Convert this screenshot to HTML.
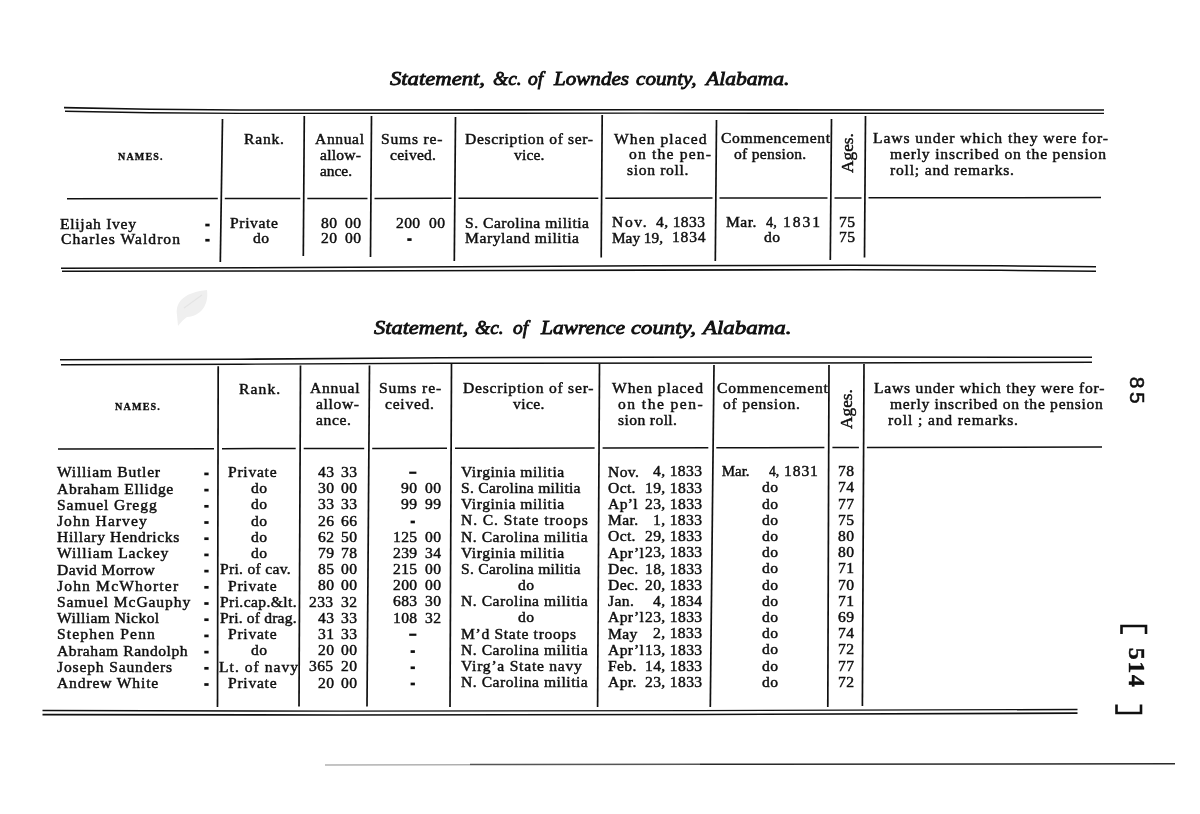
<!DOCTYPE html><html><head><meta charset="utf-8"><title>Statement of Lowndes and Lawrence counties, Alabama</title><style>
html,body{margin:0;padding:0;background:#fff;}
#pg{position:absolute;left:0;top:0;width:1200px;height:814px;filter:grayscale(1);}
body{width:1200px;height:814px;position:relative;overflow:hidden;font-family:"Liberation Serif",serif;color:#101010;}
.t{position:absolute;white-space:pre;transform-origin:0 0;}
svg{position:absolute;left:0;top:0;}
</style></head><body><div id="pg">
<svg width="1200" height="814" viewBox="0 0 1200 814">
<path d="M177 315 C175 300 187 292 207 290 C209 305 201 316 187 317 C184 319 181 322 178 326 Z" fill="#efefef"/><path d="M184 308 L202 295" stroke="#e4e4e4" stroke-width="1.2"/>
<polyline points="64.00,107.60 150.00,109.20 240.00,110.00 640.00,109.80 1104.00,110.00" fill="none" stroke="#101010" stroke-width="1.6"/>
<polyline points="65.00,111.20 150.00,112.80 240.00,113.40 640.00,113.10 1104.00,113.40" fill="none" stroke="#101010" stroke-width="1.4"/>
<polyline points="67.00,198.80 217.80,198.62" fill="none" stroke="#101010" stroke-width="1.5"/>
<polyline points="224.80,198.62 300.30,198.53" fill="none" stroke="#101010" stroke-width="1.5"/>
<polyline points="307.30,198.52 367.50,198.45" fill="none" stroke="#101010" stroke-width="1.5"/>
<polyline points="374.50,198.44 451.50,198.35" fill="none" stroke="#101010" stroke-width="1.5"/>
<polyline points="458.50,198.35 598.30,198.18" fill="none" stroke="#101010" stroke-width="1.5"/>
<polyline points="605.30,198.18 712.50,198.05" fill="none" stroke="#101010" stroke-width="1.5"/>
<polyline points="719.50,198.04 827.50,197.92" fill="none" stroke="#101010" stroke-width="1.5"/>
<polyline points="834.50,197.91 861.50,197.88" fill="none" stroke="#101010" stroke-width="1.5"/>
<polyline points="868.50,197.87 1101.00,197.60" fill="none" stroke="#101010" stroke-width="1.5"/>
<polyline points="61.00,268.20 300.00,267.50 650.00,265.80 850.00,265.30 1000.00,265.80 1096.00,266.70" fill="none" stroke="#101010" stroke-width="1.5"/>
<polyline points="62.00,271.20 300.00,271.00 650.00,270.10 850.00,269.70 1000.00,270.30 1096.00,271.20" fill="none" stroke="#101010" stroke-width="1.6"/>
<polyline points="222.50,119.00 220.30,262.00" fill="none" stroke="#101010" stroke-width="1.7"/>
<polyline points="304.30,116.00 303.30,256.00" fill="none" stroke="#101010" stroke-width="1.7"/>
<polyline points="371.50,116.00 370.50,257.00" fill="none" stroke="#101010" stroke-width="1.7"/>
<polyline points="455.50,117.00 454.30,261.00" fill="none" stroke="#101010" stroke-width="1.7"/>
<polyline points="602.20,115.00 601.20,257.50" fill="none" stroke="#101010" stroke-width="1.7"/>
<polyline points="716.50,120.00 715.30,261.00" fill="none" stroke="#101010" stroke-width="1.7"/>
<polyline points="831.50,119.00 830.30,260.00" fill="none" stroke="#101010" stroke-width="1.7"/>
<polyline points="865.50,116.00 864.50,257.50" fill="none" stroke="#101010" stroke-width="1.7"/>
<polyline points="60.00,359.70 240.00,359.20 440.00,357.70 800.00,357.00 1092.00,357.30" fill="none" stroke="#101010" stroke-width="1.6"/>
<polyline points="61.00,364.70 240.00,364.20 440.00,363.30 800.00,363.00 1092.00,362.30" fill="none" stroke="#101010" stroke-width="1.4"/>
<polyline points="58.00,449.00 214.00,448.70" fill="none" stroke="#101010" stroke-width="1.5"/>
<polyline points="222.00,448.69 295.70,448.54" fill="none" stroke="#101010" stroke-width="1.5"/>
<polyline points="303.70,448.53 364.20,448.41" fill="none" stroke="#101010" stroke-width="1.5"/>
<polyline points="372.20,448.40 447.00,448.25" fill="none" stroke="#101010" stroke-width="1.5"/>
<polyline points="455.00,448.24 594.60,447.97" fill="none" stroke="#101010" stroke-width="1.5"/>
<polyline points="602.60,447.96 708.30,447.75" fill="none" stroke="#101010" stroke-width="1.5"/>
<polyline points="716.30,447.74 824.40,447.53" fill="none" stroke="#101010" stroke-width="1.5"/>
<polyline points="832.40,447.52 858.90,447.47" fill="none" stroke="#101010" stroke-width="1.5"/>
<polyline points="866.90,447.45 1102.00,447.00" fill="none" stroke="#101010" stroke-width="1.5"/>
<polyline points="42.50,710.50 340.00,711.10 700.00,710.60 1077.50,709.50" fill="none" stroke="#101010" stroke-width="1.4"/>
<polyline points="42.50,714.60 340.00,715.00 700.00,714.50 1077.50,713.10" fill="none" stroke="#101010" stroke-width="1.7"/>
<polyline points="218.20,366.30 217.50,707.00" fill="none" stroke="#101010" stroke-width="1.7"/>
<polyline points="300.50,365.50 299.00,706.50" fill="none" stroke="#101010" stroke-width="1.7"/>
<polyline points="369.50,365.50 367.00,706.50" fill="none" stroke="#101010" stroke-width="1.7"/>
<polyline points="451.50,363.80 450.00,707.00" fill="none" stroke="#101010" stroke-width="1.7"/>
<polyline points="599.50,364.00 597.60,707.00" fill="none" stroke="#101010" stroke-width="1.7"/>
<polyline points="714.00,365.00 710.30,707.00" fill="none" stroke="#101010" stroke-width="1.7"/>
<polyline points="829.00,365.00 827.80,707.00" fill="none" stroke="#101010" stroke-width="1.7"/>
<polyline points="864.00,364.00 862.40,706.00" fill="none" stroke="#101010" stroke-width="1.7"/>
<polyline points="325.00,765.00 470.00,764.80" fill="none" stroke="#8a8a8a" stroke-width="1.0"/>
<polyline points="470.00,764.50 700.00,764.30" fill="none" stroke="#555" stroke-width="1.4"/>
<polyline points="700.00,764.30 1175.00,763.80" fill="none" stroke="#2a2a2a" stroke-width="1.5"/>
<path d="M1121.5 634 L1121.5 626 L1146 626 L1146 634" fill="none" stroke="#101010" stroke-width="2.6"/>
<path d="M1116.5 704.5 L1116.5 713 L1141 713 L1141 704.5" fill="none" stroke="#101010" stroke-width="2.6"/>
<rect x="205.3" y="223.68" width="4.3" height="2.7" fill="#101010"/>
<rect x="205.3" y="238.88" width="4.3" height="2.7" fill="#101010"/>
<rect x="407.3" y="238.23" width="4.3" height="2.7" fill="#101010"/>
<rect x="204.3" y="472.56" width="4.3" height="2.7" fill="#101010"/>
<rect x="409.2" y="471.63" width="7.2" height="2.2" fill="#101010"/>
<rect x="204.3" y="488.76" width="4.3" height="2.7" fill="#101010"/>
<rect x="204.3" y="504.96" width="4.3" height="2.7" fill="#101010"/>
<rect x="204.3" y="521.16" width="4.3" height="2.7" fill="#101010"/>
<rect x="410.6" y="520.63" width="4.3" height="2.7" fill="#101010"/>
<rect x="204.3" y="537.36" width="4.3" height="2.7" fill="#101010"/>
<rect x="204.3" y="553.56" width="4.3" height="2.7" fill="#101010"/>
<rect x="204.3" y="569.76" width="4.3" height="2.7" fill="#101010"/>
<rect x="204.3" y="585.96" width="4.3" height="2.7" fill="#101010"/>
<rect x="204.3" y="602.16" width="4.3" height="2.7" fill="#101010"/>
<rect x="204.3" y="618.36" width="4.3" height="2.7" fill="#101010"/>
<rect x="204.3" y="634.56" width="4.3" height="2.7" fill="#101010"/>
<rect x="409.2" y="633.63" width="7.2" height="2.2" fill="#101010"/>
<rect x="204.3" y="650.76" width="4.3" height="2.7" fill="#101010"/>
<rect x="410.6" y="650.23" width="4.3" height="2.7" fill="#101010"/>
<rect x="204.3" y="666.96" width="4.3" height="2.7" fill="#101010"/>
<rect x="410.6" y="666.43" width="4.3" height="2.7" fill="#101010"/>
<rect x="204.3" y="683.16" width="4.3" height="2.7" fill="#101010"/>
<rect x="410.6" y="682.63" width="4.3" height="2.7" fill="#101010"/>
</svg>
<div class="t" style="left:390.00px;top:69.00px;line-height:19.5px;font-family:'Liberation Serif',serif;font-size:19.5px;font-weight:400;font-style:italic;-webkit-text-stroke:0.85px #101010;transform:scaleX(1.1616);">Statement,</div>
<div class="t" style="left:493.00px;top:69.00px;line-height:19.5px;font-family:'Liberation Serif',serif;font-size:19.5px;font-weight:400;font-style:italic;-webkit-text-stroke:0.85px #101010;">&amp;c.</div>
<div class="t" style="left:528.00px;top:69.00px;line-height:19.5px;font-family:'Liberation Serif',serif;font-size:19.5px;font-weight:400;font-style:italic;-webkit-text-stroke:0.85px #101010;">of</div>
<div class="t" style="left:554.00px;top:69.00px;line-height:19.5px;font-family:'Liberation Serif',serif;font-size:19.5px;font-weight:400;font-style:italic;-webkit-text-stroke:0.85px #101010;transform:scaleX(1.0813);">Lowndes</div>
<div class="t" style="left:636.40px;top:69.00px;line-height:19.5px;font-family:'Liberation Serif',serif;font-size:19.5px;font-weight:400;font-style:italic;-webkit-text-stroke:0.85px #101010;transform:scaleX(1.0864);">county,</div>
<div class="t" style="left:705.80px;top:69.00px;line-height:19.5px;font-family:'Liberation Serif',serif;font-size:19.5px;font-weight:400;font-style:italic;-webkit-text-stroke:0.85px #101010;transform:scaleX(1.1076);">Alabama.</div>
<div class="t" style="left:117.70px;top:152.00px;line-height:10.5px;font-family:'Liberation Serif',serif;font-size:10.5px;font-weight:700;font-style:normal;letter-spacing:1.2px;-webkit-text-stroke:0.35px #101010;transform:scaleX(0.9550);">NAMES.</div>
<div class="t" style="left:243.75px;top:132.39px;line-height:15.0px;font-family:'Liberation Serif',serif;font-size:15.0px;font-weight:400;font-style:normal;-webkit-text-stroke:0.45px #101010;letter-spacing:0.760px;transform:scaleX(1.0400);">Rank.</div>
<div class="t" style="left:315.00px;top:132.24px;line-height:15.0px;font-family:'Liberation Serif',serif;font-size:15.0px;font-weight:400;font-style:normal;-webkit-text-stroke:0.45px #101010;letter-spacing:0.589px;transform:scaleX(1.0400);">Annual</div>
<div class="t" style="left:320.00px;top:148.02px;line-height:15.0px;font-family:'Liberation Serif',serif;font-size:15.0px;font-weight:400;font-style:normal;-webkit-text-stroke:0.45px #101010;letter-spacing:0.219px;transform:scaleX(1.0400);">allow-</div>
<div class="t" style="left:320.00px;top:163.82px;line-height:15.0px;font-family:'Liberation Serif',serif;font-size:15.0px;font-weight:400;font-style:normal;-webkit-text-stroke:0.45px #101010;transform:scaleX(1.0245);">ance.</div>
<div class="t" style="left:381.00px;top:132.09px;line-height:15.0px;font-family:'Liberation Serif',serif;font-size:15.0px;font-weight:400;font-style:normal;-webkit-text-stroke:0.45px #101010;letter-spacing:0.769px;transform:scaleX(1.0400);">Sums re-</div>
<div class="t" style="left:390.00px;top:147.87px;line-height:15.0px;font-family:'Liberation Serif',serif;font-size:15.0px;font-weight:400;font-style:normal;-webkit-text-stroke:0.45px #101010;letter-spacing:0.223px;transform:scaleX(1.0400);">ceived.</div>
<div class="t" style="left:465.00px;top:131.91px;line-height:15.0px;font-family:'Liberation Serif',serif;font-size:15.0px;font-weight:400;font-style:normal;-webkit-text-stroke:0.45px #101010;letter-spacing:0.606px;transform:scaleX(1.0400);">Description of ser-</div>
<div class="t" style="left:514.00px;top:147.60px;line-height:15.0px;font-family:'Liberation Serif',serif;font-size:15.0px;font-weight:400;font-style:normal;-webkit-text-stroke:0.45px #101010;letter-spacing:0.148px;transform:scaleX(1.0400);">vice.</div>
<div class="t" style="left:614.00px;top:131.58px;line-height:15.0px;font-family:'Liberation Serif',serif;font-size:15.0px;font-weight:400;font-style:normal;-webkit-text-stroke:0.45px #101010;letter-spacing:1.022px;transform:scaleX(1.0400);">When placed</div>
<div class="t" style="left:629.00px;top:147.34px;line-height:15.0px;font-family:'Liberation Serif',serif;font-size:15.0px;font-weight:400;font-style:normal;-webkit-text-stroke:0.45px #101010;letter-spacing:1.136px;transform:scaleX(1.0400);">on the pen-</div>
<div class="t" style="left:627.00px;top:163.15px;line-height:15.0px;font-family:'Liberation Serif',serif;font-size:15.0px;font-weight:400;font-style:normal;-webkit-text-stroke:0.45px #101010;letter-spacing:0.643px;transform:scaleX(1.0400);">sion roll.</div>
<div class="t" style="left:721.00px;top:131.34px;line-height:15.0px;font-family:'Liberation Serif',serif;font-size:15.0px;font-weight:400;font-style:normal;-webkit-text-stroke:0.45px #101010;letter-spacing:0.590px;transform:scaleX(1.0400);">Commencement</div>
<div class="t" style="left:733.75px;top:147.11px;line-height:15.0px;font-family:'Liberation Serif',serif;font-size:15.0px;font-weight:400;font-style:normal;-webkit-text-stroke:0.45px #101010;letter-spacing:0.280px;transform:scaleX(1.0400);">of pension.</div>
<div class="t" style="left:872.50px;top:131.01px;line-height:15.0px;font-family:'Liberation Serif',serif;font-size:15.0px;font-weight:400;font-style:normal;-webkit-text-stroke:0.45px #101010;letter-spacing:0.891px;transform:scaleX(1.0400);">Laws under which they were for-</div>
<div class="t" style="left:890.00px;top:146.77px;line-height:15.0px;font-family:'Liberation Serif',serif;font-size:15.0px;font-weight:400;font-style:normal;-webkit-text-stroke:0.45px #101010;letter-spacing:0.784px;transform:scaleX(1.0400);">merly inscribed on the pension</div>
<div class="t" style="left:890.00px;top:162.57px;line-height:15.0px;font-family:'Liberation Serif',serif;font-size:15.0px;font-weight:400;font-style:normal;-webkit-text-stroke:0.45px #101010;letter-spacing:0.765px;transform:scaleX(1.0400);">roll; and remarks.</div>
<div class="t" style="left:60.00px;top:216.60px;line-height:15.0px;font-family:'Liberation Serif',serif;font-size:15.0px;font-weight:400;font-style:normal;-webkit-text-stroke:0.45px #101010;letter-spacing:0.684px;transform:scaleX(1.0400);">Elijah Ivey</div>
<div class="t" style="left:61.00px;top:231.80px;line-height:15.0px;font-family:'Liberation Serif',serif;font-size:15.0px;font-weight:400;font-style:normal;-webkit-text-stroke:0.45px #101010;letter-spacing:0.989px;transform:scaleX(1.0400);">Charles Waldron</div>
<div class="t" style="left:230.00px;top:216.23px;line-height:15.0px;font-family:'Liberation Serif',serif;font-size:15.0px;font-weight:400;font-style:normal;-webkit-text-stroke:0.45px #101010;letter-spacing:0.609px;transform:scaleX(1.0400);">Private</div>
<div class="t" style="left:253.02px;top:231.36px;line-height:15.0px;font-family:'Liberation Serif',serif;font-size:15.0px;font-weight:400;font-style:normal;-webkit-text-stroke:0.45px #101010;letter-spacing:0.350px;transform:scaleX(1.0400);">do</div>
<div class="t" style="left:345.04px;top:215.94px;line-height:15.0px;font-family:'Liberation Serif',serif;font-size:15.0px;font-weight:400;font-style:normal;-webkit-text-stroke:0.45px #101010;letter-spacing:0.350px;transform:scaleX(1.0400);">00</div>
<div class="t" style="left:321.04px;top:215.99px;line-height:15.0px;font-family:'Liberation Serif',serif;font-size:15.0px;font-weight:400;font-style:normal;-webkit-text-stroke:0.45px #101010;letter-spacing:0.350px;transform:scaleX(1.0400);">80</div>
<div class="t" style="left:345.04px;top:231.14px;line-height:15.0px;font-family:'Liberation Serif',serif;font-size:15.0px;font-weight:400;font-style:normal;-webkit-text-stroke:0.45px #101010;letter-spacing:0.350px;transform:scaleX(1.0400);">00</div>
<div class="t" style="left:321.04px;top:231.19px;line-height:15.0px;font-family:'Liberation Serif',serif;font-size:15.0px;font-weight:400;font-style:normal;-webkit-text-stroke:0.45px #101010;letter-spacing:0.350px;transform:scaleX(1.0400);">20</div>
<div class="t" style="left:428.54px;top:215.75px;line-height:15.0px;font-family:'Liberation Serif',serif;font-size:15.0px;font-weight:400;font-style:normal;-webkit-text-stroke:0.45px #101010;letter-spacing:0.350px;transform:scaleX(1.0400);">00</div>
<div class="t" style="left:396.37px;top:215.81px;line-height:15.0px;font-family:'Liberation Serif',serif;font-size:15.0px;font-weight:400;font-style:normal;-webkit-text-stroke:0.45px #101010;letter-spacing:0.350px;transform:scaleX(1.0400);">200</div>
<div class="t" style="left:465.00px;top:215.71px;line-height:15.0px;font-family:'Liberation Serif',serif;font-size:15.0px;font-weight:400;font-style:normal;-webkit-text-stroke:0.45px #101010;letter-spacing:0.490px;transform:scaleX(1.0400);">S. Carolina militia</div>
<div class="t" style="left:465.00px;top:230.91px;line-height:15.0px;font-family:'Liberation Serif',serif;font-size:15.0px;font-weight:400;font-style:normal;-webkit-text-stroke:0.45px #101010;letter-spacing:0.559px;transform:scaleX(1.0400);">Maryland militia</div>
<div class="t" style="left:612.00px;top:215.39px;line-height:15.0px;font-family:'Liberation Serif',serif;font-size:15.0px;font-weight:400;font-style:normal;-webkit-text-stroke:0.45px #101010;letter-spacing:1.553px;transform:scaleX(1.0400);">Nov.</div>
<div class="t" style="left:656.02px;top:215.18px;line-height:15.0px;font-family:'Liberation Serif',serif;font-size:15.0px;font-weight:400;font-style:normal;-webkit-text-stroke:0.45px #101010;letter-spacing:0.350px;transform:scaleX(1.0400);">4, 1833</div>
<div class="t" style="left:612.00px;top:230.59px;line-height:15.0px;font-family:'Liberation Serif',serif;font-size:15.0px;font-weight:400;font-style:normal;-webkit-text-stroke:0.45px #101010;transform:scaleX(1.0200);">May 19,</div>
<div class="t" style="left:671.50px;top:230.45px;line-height:15.0px;font-family:'Liberation Serif',serif;font-size:15.0px;font-weight:400;font-style:normal;-webkit-text-stroke:0.45px #101010;letter-spacing:0.737px;transform:scaleX(1.0400);">1834</div>
<div class="t" style="left:725.70px;top:215.14px;line-height:15.0px;font-family:'Liberation Serif',serif;font-size:15.0px;font-weight:400;font-style:normal;-webkit-text-stroke:0.45px #101010;letter-spacing:0.404px;transform:scaleX(1.0400);">Mar.</div>
<div class="t" style="left:765.80px;top:215.05px;line-height:15.0px;font-family:'Liberation Serif',serif;font-size:15.0px;font-weight:400;font-style:normal;-webkit-text-stroke:0.45px #101010;transform:scaleX(0.9600);">4,</div>
<div class="t" style="left:783.00px;top:215.01px;line-height:15.0px;font-family:'Liberation Serif',serif;font-size:15.0px;font-weight:400;font-style:normal;-webkit-text-stroke:0.45px #101010;letter-spacing:1.859px;transform:scaleX(1.0400);">1831</div>
<div class="t" style="left:764.22px;top:230.23px;line-height:15.0px;font-family:'Liberation Serif',serif;font-size:15.0px;font-weight:400;font-style:normal;-webkit-text-stroke:0.45px #101010;letter-spacing:0.350px;transform:scaleX(1.0400);">do</div>
<div class="t" style="left:838.52px;top:214.87px;line-height:15.0px;font-family:'Liberation Serif',serif;font-size:15.0px;font-weight:400;font-style:normal;-webkit-text-stroke:0.45px #101010;letter-spacing:0.350px;transform:scaleX(1.0400);">75</div>
<div class="t" style="left:838.52px;top:230.07px;line-height:15.0px;font-family:'Liberation Serif',serif;font-size:15.0px;font-weight:400;font-style:normal;-webkit-text-stroke:0.45px #101010;letter-spacing:0.350px;transform:scaleX(1.0400);">75</div>
<div class="t" style="left:374.00px;top:318.00px;line-height:19.5px;font-family:'Liberation Serif',serif;font-size:19.5px;font-weight:400;font-style:italic;-webkit-text-stroke:0.85px #101010;transform:scaleX(1.1494);">Statement,</div>
<div class="t" style="left:475.00px;top:318.00px;line-height:19.5px;font-family:'Liberation Serif',serif;font-size:19.5px;font-weight:400;font-style:italic;-webkit-text-stroke:0.85px #101010;">&amp;c.</div>
<div class="t" style="left:513.00px;top:318.00px;line-height:19.5px;font-family:'Liberation Serif',serif;font-size:19.5px;font-weight:400;font-style:italic;-webkit-text-stroke:0.85px #101010;">of</div>
<div class="t" style="left:541.00px;top:318.00px;line-height:19.5px;font-family:'Liberation Serif',serif;font-size:19.5px;font-weight:400;font-style:italic;-webkit-text-stroke:0.85px #101010;transform:scaleX(1.1025);">Lawrence</div>
<div class="t" style="left:631.00px;top:318.00px;line-height:19.5px;font-family:'Liberation Serif',serif;font-size:19.5px;font-weight:400;font-style:italic;-webkit-text-stroke:0.85px #101010;transform:scaleX(1.1653);">county,</div>
<div class="t" style="left:702.50px;top:318.00px;line-height:19.5px;font-family:'Liberation Serif',serif;font-size:19.5px;font-weight:400;font-style:italic;-webkit-text-stroke:0.85px #101010;transform:scaleX(1.1753);">Alabama.</div>
<div class="t" style="left:115.00px;top:402.00px;line-height:10.5px;font-family:'Liberation Serif',serif;font-size:10.5px;font-weight:700;font-style:normal;letter-spacing:1.2px;-webkit-text-stroke:0.35px #101010;transform:scaleX(0.9634);">NAMES.</div>
<div class="t" style="left:238.75px;top:381.60px;line-height:15.0px;font-family:'Liberation Serif',serif;font-size:15.0px;font-weight:400;font-style:normal;-webkit-text-stroke:0.45px #101010;letter-spacing:1.060px;transform:scaleX(1.0400);">Rank.</div>
<div class="t" style="left:310.00px;top:381.48px;line-height:15.0px;font-family:'Liberation Serif',serif;font-size:15.0px;font-weight:400;font-style:normal;-webkit-text-stroke:0.45px #101010;letter-spacing:0.685px;transform:scaleX(1.0400);">Annual</div>
<div class="t" style="left:316.00px;top:397.47px;line-height:15.0px;font-family:'Liberation Serif',serif;font-size:15.0px;font-weight:400;font-style:normal;-webkit-text-stroke:0.45px #101010;letter-spacing:0.604px;transform:scaleX(1.0400);">allow-</div>
<div class="t" style="left:316.00px;top:413.47px;line-height:15.0px;font-family:'Liberation Serif',serif;font-size:15.0px;font-weight:400;font-style:normal;-webkit-text-stroke:0.45px #101010;letter-spacing:0.605px;transform:scaleX(1.0400);">ance.</div>
<div class="t" style="left:378.75px;top:381.36px;line-height:15.0px;font-family:'Liberation Serif',serif;font-size:15.0px;font-weight:400;font-style:normal;-webkit-text-stroke:0.45px #101010;letter-spacing:0.872px;transform:scaleX(1.0400);">Sums re-</div>
<div class="t" style="left:385.00px;top:397.35px;line-height:15.0px;font-family:'Liberation Serif',serif;font-size:15.0px;font-weight:400;font-style:normal;-webkit-text-stroke:0.45px #101010;letter-spacing:0.704px;transform:scaleX(1.0400);">ceived.</div>
<div class="t" style="left:462.50px;top:381.22px;line-height:15.0px;font-family:'Liberation Serif',serif;font-size:15.0px;font-weight:400;font-style:normal;-webkit-text-stroke:0.45px #101010;letter-spacing:0.739px;transform:scaleX(1.0400);">Description of ser-</div>
<div class="t" style="left:512.50px;top:397.14px;line-height:15.0px;font-family:'Liberation Serif',serif;font-size:15.0px;font-weight:400;font-style:normal;-webkit-text-stroke:0.45px #101010;letter-spacing:0.389px;transform:scaleX(1.0400);">vice.</div>
<div class="t" style="left:611.70px;top:380.97px;line-height:15.0px;font-family:'Liberation Serif',serif;font-size:15.0px;font-weight:400;font-style:normal;-webkit-text-stroke:0.45px #101010;letter-spacing:0.878px;transform:scaleX(1.0400);">When placed</div>
<div class="t" style="left:618.00px;top:396.96px;line-height:15.0px;font-family:'Liberation Serif',serif;font-size:15.0px;font-weight:400;font-style:normal;-webkit-text-stroke:0.45px #101010;letter-spacing:1.396px;transform:scaleX(1.0400);">on the pen-</div>
<div class="t" style="left:618.00px;top:412.96px;line-height:15.0px;font-family:'Liberation Serif',serif;font-size:15.0px;font-weight:400;font-style:normal;-webkit-text-stroke:0.45px #101010;letter-spacing:0.376px;transform:scaleX(1.0400);">sion roll.</div>
<div class="t" style="left:716.70px;top:380.79px;line-height:15.0px;font-family:'Liberation Serif',serif;font-size:15.0px;font-weight:400;font-style:normal;-webkit-text-stroke:0.45px #101010;letter-spacing:0.748px;transform:scaleX(1.0400);">Commencement</div>
<div class="t" style="left:722.50px;top:396.78px;line-height:15.0px;font-family:'Liberation Serif',serif;font-size:15.0px;font-weight:400;font-style:normal;-webkit-text-stroke:0.45px #101010;letter-spacing:0.737px;transform:scaleX(1.0400);">of pension.</div>
<div class="t" style="left:873.50px;top:380.52px;line-height:15.0px;font-family:'Liberation Serif',serif;font-size:15.0px;font-weight:400;font-style:normal;-webkit-text-stroke:0.45px #101010;letter-spacing:0.747px;transform:scaleX(1.0400);">Laws under which they were for-</div>
<div class="t" style="left:889.60px;top:396.50px;line-height:15.0px;font-family:'Liberation Serif',serif;font-size:15.0px;font-weight:400;font-style:normal;-webkit-text-stroke:0.45px #101010;letter-spacing:0.681px;transform:scaleX(1.0400);">merly inscribed on the pension</div>
<div class="t" style="left:888.00px;top:412.50px;line-height:15.0px;font-family:'Liberation Serif',serif;font-size:15.0px;font-weight:400;font-style:normal;-webkit-text-stroke:0.45px #101010;letter-spacing:0.835px;transform:scaleX(1.0400);">roll ; and remarks.</div>
<div class="t" style="left:57.00px;top:465.40px;line-height:15.0px;font-family:'Liberation Serif',serif;font-size:15.0px;font-weight:400;font-style:normal;-webkit-text-stroke:0.45px #101010;letter-spacing:0.711px;transform:scaleX(1.0400);">William Butler</div>
<div class="t" style="left:227.70px;top:465.13px;line-height:15.0px;font-family:'Liberation Serif',serif;font-size:15.0px;font-weight:400;font-style:normal;-webkit-text-stroke:0.45px #101010;letter-spacing:0.705px;transform:scaleX(1.0400);">Private</div>
<div class="t" style="left:341.34px;top:464.92px;line-height:15.0px;font-family:'Liberation Serif',serif;font-size:15.0px;font-weight:400;font-style:normal;-webkit-text-stroke:0.45px #101010;letter-spacing:0.350px;transform:scaleX(1.0400);">33</div>
<div class="t" style="left:317.64px;top:464.96px;line-height:15.0px;font-family:'Liberation Serif',serif;font-size:15.0px;font-weight:400;font-style:normal;-webkit-text-stroke:0.45px #101010;letter-spacing:0.350px;transform:scaleX(1.0400);">43</div>
<div class="t" style="left:461.40px;top:464.75px;line-height:15.0px;font-family:'Liberation Serif',serif;font-size:15.0px;font-weight:400;font-style:normal;-webkit-text-stroke:0.45px #101010;letter-spacing:0.500px;transform:scaleX(1.0400);">Virginia militia</div>
<div class="t" style="left:608.30px;top:464.52px;line-height:15.0px;font-family:'Liberation Serif',serif;font-size:15.0px;font-weight:400;font-style:normal;-webkit-text-stroke:0.45px #101010;letter-spacing:0.350px;transform:scaleX(1.0400);">Nov.</div>
<div class="t" style="left:652.72px;top:464.37px;line-height:15.0px;font-family:'Liberation Serif',serif;font-size:15.0px;font-weight:400;font-style:normal;-webkit-text-stroke:0.45px #101010;letter-spacing:0.350px;transform:scaleX(1.0400);">4, 1833</div>
<div class="t" style="left:721.70px;top:464.34px;line-height:15.0px;font-family:'Liberation Serif',serif;font-size:15.0px;font-weight:400;font-style:normal;-webkit-text-stroke:0.45px #101010;">Mar.</div>
<div class="t" style="left:768.90px;top:464.26px;line-height:15.0px;font-family:'Liberation Serif',serif;font-size:15.0px;font-weight:400;font-style:normal;-webkit-text-stroke:0.45px #101010;transform:scaleX(0.9156);">4,</div>
<div class="t" style="left:783.60px;top:464.24px;line-height:15.0px;font-family:'Liberation Serif',serif;font-size:15.0px;font-weight:400;font-style:normal;-webkit-text-stroke:0.45px #101010;letter-spacing:0.865px;transform:scaleX(1.0400);">1831</div>
<div class="t" style="left:838.22px;top:464.14px;line-height:15.0px;font-family:'Liberation Serif',serif;font-size:15.0px;font-weight:400;font-style:normal;-webkit-text-stroke:0.45px #101010;letter-spacing:0.350px;transform:scaleX(1.0400);">78</div>
<div class="t" style="left:57.00px;top:481.60px;line-height:15.0px;font-family:'Liberation Serif',serif;font-size:15.0px;font-weight:400;font-style:normal;-webkit-text-stroke:0.45px #101010;letter-spacing:0.638px;transform:scaleX(1.0400);">Abraham Ellidge</div>
<div class="t" style="left:251.42px;top:481.28px;line-height:15.0px;font-family:'Liberation Serif',serif;font-size:15.0px;font-weight:400;font-style:normal;-webkit-text-stroke:0.45px #101010;letter-spacing:0.350px;transform:scaleX(1.0400);">do</div>
<div class="t" style="left:341.34px;top:481.12px;line-height:15.0px;font-family:'Liberation Serif',serif;font-size:15.0px;font-weight:400;font-style:normal;-webkit-text-stroke:0.45px #101010;letter-spacing:0.350px;transform:scaleX(1.0400);">00</div>
<div class="t" style="left:317.64px;top:481.16px;line-height:15.0px;font-family:'Liberation Serif',serif;font-size:15.0px;font-weight:400;font-style:normal;-webkit-text-stroke:0.45px #101010;letter-spacing:0.350px;transform:scaleX(1.0400);">30</div>
<div class="t" style="left:424.84px;top:480.99px;line-height:15.0px;font-family:'Liberation Serif',serif;font-size:15.0px;font-weight:400;font-style:normal;-webkit-text-stroke:0.45px #101010;letter-spacing:0.350px;transform:scaleX(1.0400);">00</div>
<div class="t" style="left:401.24px;top:481.02px;line-height:15.0px;font-family:'Liberation Serif',serif;font-size:15.0px;font-weight:400;font-style:normal;-webkit-text-stroke:0.45px #101010;letter-spacing:0.350px;transform:scaleX(1.0400);">90</div>
<div class="t" style="left:461.40px;top:480.95px;line-height:15.0px;font-family:'Liberation Serif',serif;font-size:15.0px;font-weight:400;font-style:normal;-webkit-text-stroke:0.45px #101010;letter-spacing:0.250px;transform:scaleX(1.0400);">S. Carolina militia</div>
<div class="t" style="left:608.30px;top:480.72px;line-height:15.0px;font-family:'Liberation Serif',serif;font-size:15.0px;font-weight:400;font-style:normal;-webkit-text-stroke:0.45px #101010;letter-spacing:0.350px;transform:scaleX(1.0400);">Oct.</div>
<div class="t" style="left:644.55px;top:480.57px;line-height:15.0px;font-family:'Liberation Serif',serif;font-size:15.0px;font-weight:400;font-style:normal;-webkit-text-stroke:0.45px #101010;letter-spacing:0.350px;transform:scaleX(1.0400);">19, 1833</div>
<div class="t" style="left:761.62px;top:480.46px;line-height:15.0px;font-family:'Liberation Serif',serif;font-size:15.0px;font-weight:400;font-style:normal;-webkit-text-stroke:0.45px #101010;letter-spacing:0.350px;transform:scaleX(1.0400);">do</div>
<div class="t" style="left:838.22px;top:480.34px;line-height:15.0px;font-family:'Liberation Serif',serif;font-size:15.0px;font-weight:400;font-style:normal;-webkit-text-stroke:0.45px #101010;letter-spacing:0.350px;transform:scaleX(1.0400);">74</div>
<div class="t" style="left:57.00px;top:497.80px;line-height:15.0px;font-family:'Liberation Serif',serif;font-size:15.0px;font-weight:400;font-style:normal;-webkit-text-stroke:0.45px #101010;letter-spacing:0.876px;transform:scaleX(1.0400);">Samuel Gregg</div>
<div class="t" style="left:251.42px;top:497.48px;line-height:15.0px;font-family:'Liberation Serif',serif;font-size:15.0px;font-weight:400;font-style:normal;-webkit-text-stroke:0.45px #101010;letter-spacing:0.350px;transform:scaleX(1.0400);">do</div>
<div class="t" style="left:341.34px;top:497.32px;line-height:15.0px;font-family:'Liberation Serif',serif;font-size:15.0px;font-weight:400;font-style:normal;-webkit-text-stroke:0.45px #101010;letter-spacing:0.350px;transform:scaleX(1.0400);">33</div>
<div class="t" style="left:317.64px;top:497.36px;line-height:15.0px;font-family:'Liberation Serif',serif;font-size:15.0px;font-weight:400;font-style:normal;-webkit-text-stroke:0.45px #101010;letter-spacing:0.350px;transform:scaleX(1.0400);">33</div>
<div class="t" style="left:424.84px;top:497.19px;line-height:15.0px;font-family:'Liberation Serif',serif;font-size:15.0px;font-weight:400;font-style:normal;-webkit-text-stroke:0.45px #101010;letter-spacing:0.350px;transform:scaleX(1.0400);">99</div>
<div class="t" style="left:401.24px;top:497.22px;line-height:15.0px;font-family:'Liberation Serif',serif;font-size:15.0px;font-weight:400;font-style:normal;-webkit-text-stroke:0.45px #101010;letter-spacing:0.350px;transform:scaleX(1.0400);">99</div>
<div class="t" style="left:461.40px;top:497.15px;line-height:15.0px;font-family:'Liberation Serif',serif;font-size:15.0px;font-weight:400;font-style:normal;-webkit-text-stroke:0.45px #101010;letter-spacing:0.500px;transform:scaleX(1.0400);">Virginia militia</div>
<div class="t" style="left:608.30px;top:496.92px;line-height:15.0px;font-family:'Liberation Serif',serif;font-size:15.0px;font-weight:400;font-style:normal;-webkit-text-stroke:0.45px #101010;letter-spacing:0.350px;transform:scaleX(1.0400);">Ap’l</div>
<div class="t" style="left:644.55px;top:496.77px;line-height:15.0px;font-family:'Liberation Serif',serif;font-size:15.0px;font-weight:400;font-style:normal;-webkit-text-stroke:0.45px #101010;letter-spacing:0.350px;transform:scaleX(1.0400);">23, 1833</div>
<div class="t" style="left:761.62px;top:496.66px;line-height:15.0px;font-family:'Liberation Serif',serif;font-size:15.0px;font-weight:400;font-style:normal;-webkit-text-stroke:0.45px #101010;letter-spacing:0.350px;transform:scaleX(1.0400);">do</div>
<div class="t" style="left:838.22px;top:496.54px;line-height:15.0px;font-family:'Liberation Serif',serif;font-size:15.0px;font-weight:400;font-style:normal;-webkit-text-stroke:0.45px #101010;letter-spacing:0.350px;transform:scaleX(1.0400);">77</div>
<div class="t" style="left:57.00px;top:514.00px;line-height:15.0px;font-family:'Liberation Serif',serif;font-size:15.0px;font-weight:400;font-style:normal;-webkit-text-stroke:0.45px #101010;letter-spacing:1.002px;transform:scaleX(1.0400);">John Harvey</div>
<div class="t" style="left:251.42px;top:513.68px;line-height:15.0px;font-family:'Liberation Serif',serif;font-size:15.0px;font-weight:400;font-style:normal;-webkit-text-stroke:0.45px #101010;letter-spacing:0.350px;transform:scaleX(1.0400);">do</div>
<div class="t" style="left:341.34px;top:513.52px;line-height:15.0px;font-family:'Liberation Serif',serif;font-size:15.0px;font-weight:400;font-style:normal;-webkit-text-stroke:0.45px #101010;letter-spacing:0.350px;transform:scaleX(1.0400);">66</div>
<div class="t" style="left:317.64px;top:513.56px;line-height:15.0px;font-family:'Liberation Serif',serif;font-size:15.0px;font-weight:400;font-style:normal;-webkit-text-stroke:0.45px #101010;letter-spacing:0.350px;transform:scaleX(1.0400);">26</div>
<div class="t" style="left:461.40px;top:513.35px;line-height:15.0px;font-family:'Liberation Serif',serif;font-size:15.0px;font-weight:400;font-style:normal;-webkit-text-stroke:0.45px #101010;letter-spacing:0.872px;transform:scaleX(1.0400);">N. C. State troops</div>
<div class="t" style="left:608.30px;top:513.12px;line-height:15.0px;font-family:'Liberation Serif',serif;font-size:15.0px;font-weight:400;font-style:normal;-webkit-text-stroke:0.45px #101010;letter-spacing:0.350px;transform:scaleX(1.0400);">Mar.</div>
<div class="t" style="left:652.72px;top:512.97px;line-height:15.0px;font-family:'Liberation Serif',serif;font-size:15.0px;font-weight:400;font-style:normal;-webkit-text-stroke:0.45px #101010;letter-spacing:0.350px;transform:scaleX(1.0400);">1, 1833</div>
<div class="t" style="left:761.62px;top:512.86px;line-height:15.0px;font-family:'Liberation Serif',serif;font-size:15.0px;font-weight:400;font-style:normal;-webkit-text-stroke:0.45px #101010;letter-spacing:0.350px;transform:scaleX(1.0400);">do</div>
<div class="t" style="left:838.22px;top:512.74px;line-height:15.0px;font-family:'Liberation Serif',serif;font-size:15.0px;font-weight:400;font-style:normal;-webkit-text-stroke:0.45px #101010;letter-spacing:0.350px;transform:scaleX(1.0400);">75</div>
<div class="t" style="left:57.00px;top:530.20px;line-height:15.0px;font-family:'Liberation Serif',serif;font-size:15.0px;font-weight:400;font-style:normal;-webkit-text-stroke:0.45px #101010;letter-spacing:0.601px;transform:scaleX(1.0400);">Hillary Hendricks</div>
<div class="t" style="left:251.42px;top:529.88px;line-height:15.0px;font-family:'Liberation Serif',serif;font-size:15.0px;font-weight:400;font-style:normal;-webkit-text-stroke:0.45px #101010;letter-spacing:0.350px;transform:scaleX(1.0400);">do</div>
<div class="t" style="left:341.34px;top:529.72px;line-height:15.0px;font-family:'Liberation Serif',serif;font-size:15.0px;font-weight:400;font-style:normal;-webkit-text-stroke:0.45px #101010;letter-spacing:0.350px;transform:scaleX(1.0400);">50</div>
<div class="t" style="left:317.64px;top:529.76px;line-height:15.0px;font-family:'Liberation Serif',serif;font-size:15.0px;font-weight:400;font-style:normal;-webkit-text-stroke:0.45px #101010;letter-spacing:0.350px;transform:scaleX(1.0400);">62</div>
<div class="t" style="left:424.84px;top:529.59px;line-height:15.0px;font-family:'Liberation Serif',serif;font-size:15.0px;font-weight:400;font-style:normal;-webkit-text-stroke:0.45px #101010;letter-spacing:0.350px;transform:scaleX(1.0400);">00</div>
<div class="t" style="left:393.07px;top:529.62px;line-height:15.0px;font-family:'Liberation Serif',serif;font-size:15.0px;font-weight:400;font-style:normal;-webkit-text-stroke:0.45px #101010;letter-spacing:0.350px;transform:scaleX(1.0400);">125</div>
<div class="t" style="left:461.40px;top:529.55px;line-height:15.0px;font-family:'Liberation Serif',serif;font-size:15.0px;font-weight:400;font-style:normal;-webkit-text-stroke:0.45px #101010;letter-spacing:0.501px;transform:scaleX(1.0400);">N. Carolina militia</div>
<div class="t" style="left:608.30px;top:529.32px;line-height:15.0px;font-family:'Liberation Serif',serif;font-size:15.0px;font-weight:400;font-style:normal;-webkit-text-stroke:0.45px #101010;letter-spacing:0.350px;transform:scaleX(1.0400);">Oct.</div>
<div class="t" style="left:644.55px;top:529.17px;line-height:15.0px;font-family:'Liberation Serif',serif;font-size:15.0px;font-weight:400;font-style:normal;-webkit-text-stroke:0.45px #101010;letter-spacing:0.350px;transform:scaleX(1.0400);">29, 1833</div>
<div class="t" style="left:761.62px;top:529.06px;line-height:15.0px;font-family:'Liberation Serif',serif;font-size:15.0px;font-weight:400;font-style:normal;-webkit-text-stroke:0.45px #101010;letter-spacing:0.350px;transform:scaleX(1.0400);">do</div>
<div class="t" style="left:838.22px;top:528.94px;line-height:15.0px;font-family:'Liberation Serif',serif;font-size:15.0px;font-weight:400;font-style:normal;-webkit-text-stroke:0.45px #101010;letter-spacing:0.350px;transform:scaleX(1.0400);">80</div>
<div class="t" style="left:57.00px;top:546.40px;line-height:15.0px;font-family:'Liberation Serif',serif;font-size:15.0px;font-weight:400;font-style:normal;-webkit-text-stroke:0.45px #101010;letter-spacing:0.813px;transform:scaleX(1.0400);">William Lackey</div>
<div class="t" style="left:251.42px;top:546.08px;line-height:15.0px;font-family:'Liberation Serif',serif;font-size:15.0px;font-weight:400;font-style:normal;-webkit-text-stroke:0.45px #101010;letter-spacing:0.350px;transform:scaleX(1.0400);">do</div>
<div class="t" style="left:341.34px;top:545.92px;line-height:15.0px;font-family:'Liberation Serif',serif;font-size:15.0px;font-weight:400;font-style:normal;-webkit-text-stroke:0.45px #101010;letter-spacing:0.350px;transform:scaleX(1.0400);">78</div>
<div class="t" style="left:317.64px;top:545.96px;line-height:15.0px;font-family:'Liberation Serif',serif;font-size:15.0px;font-weight:400;font-style:normal;-webkit-text-stroke:0.45px #101010;letter-spacing:0.350px;transform:scaleX(1.0400);">79</div>
<div class="t" style="left:424.84px;top:545.79px;line-height:15.0px;font-family:'Liberation Serif',serif;font-size:15.0px;font-weight:400;font-style:normal;-webkit-text-stroke:0.45px #101010;letter-spacing:0.350px;transform:scaleX(1.0400);">34</div>
<div class="t" style="left:393.07px;top:545.82px;line-height:15.0px;font-family:'Liberation Serif',serif;font-size:15.0px;font-weight:400;font-style:normal;-webkit-text-stroke:0.45px #101010;letter-spacing:0.350px;transform:scaleX(1.0400);">239</div>
<div class="t" style="left:461.40px;top:545.75px;line-height:15.0px;font-family:'Liberation Serif',serif;font-size:15.0px;font-weight:400;font-style:normal;-webkit-text-stroke:0.45px #101010;letter-spacing:0.500px;transform:scaleX(1.0400);">Virginia militia</div>
<div class="t" style="left:608.30px;top:545.52px;line-height:15.0px;font-family:'Liberation Serif',serif;font-size:15.0px;font-weight:400;font-style:normal;-webkit-text-stroke:0.45px #101010;letter-spacing:0.350px;transform:scaleX(1.0400);">Apr’l</div>
<div class="t" style="left:644.55px;top:545.37px;line-height:15.0px;font-family:'Liberation Serif',serif;font-size:15.0px;font-weight:400;font-style:normal;-webkit-text-stroke:0.45px #101010;letter-spacing:0.350px;transform:scaleX(1.0400);">23, 1833</div>
<div class="t" style="left:761.62px;top:545.26px;line-height:15.0px;font-family:'Liberation Serif',serif;font-size:15.0px;font-weight:400;font-style:normal;-webkit-text-stroke:0.45px #101010;letter-spacing:0.350px;transform:scaleX(1.0400);">do</div>
<div class="t" style="left:838.22px;top:545.14px;line-height:15.0px;font-family:'Liberation Serif',serif;font-size:15.0px;font-weight:400;font-style:normal;-webkit-text-stroke:0.45px #101010;letter-spacing:0.350px;transform:scaleX(1.0400);">80</div>
<div class="t" style="left:57.00px;top:562.60px;line-height:15.0px;font-family:'Liberation Serif',serif;font-size:15.0px;font-weight:400;font-style:normal;-webkit-text-stroke:0.45px #101010;letter-spacing:0.414px;transform:scaleX(1.0400);">David Morrow</div>
<div class="t" style="left:220.30px;top:562.34px;line-height:15.0px;font-family:'Liberation Serif',serif;font-size:15.0px;font-weight:400;font-style:normal;-webkit-text-stroke:0.45px #101010;letter-spacing:0.285px;transform:scaleX(1.0400);">Pri. of cav.</div>
<div class="t" style="left:341.34px;top:562.12px;line-height:15.0px;font-family:'Liberation Serif',serif;font-size:15.0px;font-weight:400;font-style:normal;-webkit-text-stroke:0.45px #101010;letter-spacing:0.350px;transform:scaleX(1.0400);">00</div>
<div class="t" style="left:317.64px;top:562.16px;line-height:15.0px;font-family:'Liberation Serif',serif;font-size:15.0px;font-weight:400;font-style:normal;-webkit-text-stroke:0.45px #101010;letter-spacing:0.350px;transform:scaleX(1.0400);">85</div>
<div class="t" style="left:424.84px;top:561.99px;line-height:15.0px;font-family:'Liberation Serif',serif;font-size:15.0px;font-weight:400;font-style:normal;-webkit-text-stroke:0.45px #101010;letter-spacing:0.350px;transform:scaleX(1.0400);">00</div>
<div class="t" style="left:393.07px;top:562.02px;line-height:15.0px;font-family:'Liberation Serif',serif;font-size:15.0px;font-weight:400;font-style:normal;-webkit-text-stroke:0.45px #101010;letter-spacing:0.350px;transform:scaleX(1.0400);">215</div>
<div class="t" style="left:461.40px;top:561.95px;line-height:15.0px;font-family:'Liberation Serif',serif;font-size:15.0px;font-weight:400;font-style:normal;-webkit-text-stroke:0.45px #101010;letter-spacing:0.250px;transform:scaleX(1.0400);">S. Carolina militia</div>
<div class="t" style="left:608.30px;top:561.72px;line-height:15.0px;font-family:'Liberation Serif',serif;font-size:15.0px;font-weight:400;font-style:normal;-webkit-text-stroke:0.45px #101010;letter-spacing:0.350px;transform:scaleX(1.0400);">Dec.</div>
<div class="t" style="left:644.55px;top:561.57px;line-height:15.0px;font-family:'Liberation Serif',serif;font-size:15.0px;font-weight:400;font-style:normal;-webkit-text-stroke:0.45px #101010;letter-spacing:0.350px;transform:scaleX(1.0400);">18, 1833</div>
<div class="t" style="left:761.62px;top:561.46px;line-height:15.0px;font-family:'Liberation Serif',serif;font-size:15.0px;font-weight:400;font-style:normal;-webkit-text-stroke:0.45px #101010;letter-spacing:0.350px;transform:scaleX(1.0400);">do</div>
<div class="t" style="left:838.22px;top:561.34px;line-height:15.0px;font-family:'Liberation Serif',serif;font-size:15.0px;font-weight:400;font-style:normal;-webkit-text-stroke:0.45px #101010;letter-spacing:0.350px;transform:scaleX(1.0400);">71</div>
<div class="t" style="left:57.00px;top:578.80px;line-height:15.0px;font-family:'Liberation Serif',serif;font-size:15.0px;font-weight:400;font-style:normal;-webkit-text-stroke:0.45px #101010;letter-spacing:1.106px;transform:scaleX(1.0400);">John McWhorter</div>
<div class="t" style="left:227.70px;top:578.53px;line-height:15.0px;font-family:'Liberation Serif',serif;font-size:15.0px;font-weight:400;font-style:normal;-webkit-text-stroke:0.45px #101010;letter-spacing:0.705px;transform:scaleX(1.0400);">Private</div>
<div class="t" style="left:341.34px;top:578.32px;line-height:15.0px;font-family:'Liberation Serif',serif;font-size:15.0px;font-weight:400;font-style:normal;-webkit-text-stroke:0.45px #101010;letter-spacing:0.350px;transform:scaleX(1.0400);">00</div>
<div class="t" style="left:317.64px;top:578.36px;line-height:15.0px;font-family:'Liberation Serif',serif;font-size:15.0px;font-weight:400;font-style:normal;-webkit-text-stroke:0.45px #101010;letter-spacing:0.350px;transform:scaleX(1.0400);">80</div>
<div class="t" style="left:424.84px;top:578.19px;line-height:15.0px;font-family:'Liberation Serif',serif;font-size:15.0px;font-weight:400;font-style:normal;-webkit-text-stroke:0.45px #101010;letter-spacing:0.350px;transform:scaleX(1.0400);">00</div>
<div class="t" style="left:393.07px;top:578.22px;line-height:15.0px;font-family:'Liberation Serif',serif;font-size:15.0px;font-weight:400;font-style:normal;-webkit-text-stroke:0.45px #101010;letter-spacing:0.350px;transform:scaleX(1.0400);">200</div>
<div class="t" style="left:517.62px;top:578.05px;line-height:15.0px;font-family:'Liberation Serif',serif;font-size:15.0px;font-weight:400;font-style:normal;-webkit-text-stroke:0.45px #101010;letter-spacing:0.350px;transform:scaleX(1.0400);">do</div>
<div class="t" style="left:608.30px;top:577.92px;line-height:15.0px;font-family:'Liberation Serif',serif;font-size:15.0px;font-weight:400;font-style:normal;-webkit-text-stroke:0.45px #101010;letter-spacing:0.350px;transform:scaleX(1.0400);">Dec.</div>
<div class="t" style="left:644.55px;top:577.77px;line-height:15.0px;font-family:'Liberation Serif',serif;font-size:15.0px;font-weight:400;font-style:normal;-webkit-text-stroke:0.45px #101010;letter-spacing:0.350px;transform:scaleX(1.0400);">20, 1833</div>
<div class="t" style="left:761.62px;top:577.66px;line-height:15.0px;font-family:'Liberation Serif',serif;font-size:15.0px;font-weight:400;font-style:normal;-webkit-text-stroke:0.45px #101010;letter-spacing:0.350px;transform:scaleX(1.0400);">do</div>
<div class="t" style="left:838.22px;top:577.54px;line-height:15.0px;font-family:'Liberation Serif',serif;font-size:15.0px;font-weight:400;font-style:normal;-webkit-text-stroke:0.45px #101010;letter-spacing:0.350px;transform:scaleX(1.0400);">70</div>
<div class="t" style="left:57.00px;top:595.00px;line-height:15.0px;font-family:'Liberation Serif',serif;font-size:15.0px;font-weight:400;font-style:normal;-webkit-text-stroke:0.45px #101010;letter-spacing:0.846px;transform:scaleX(1.0400);">Samuel McGauphy</div>
<div class="t" style="left:220.30px;top:594.74px;line-height:15.0px;font-family:'Liberation Serif',serif;font-size:15.0px;font-weight:400;font-style:normal;-webkit-text-stroke:0.45px #101010;letter-spacing:0.371px;transform:scaleX(1.0400);">Pri.cap.&amp;lt.</div>
<div class="t" style="left:341.34px;top:594.52px;line-height:15.0px;font-family:'Liberation Serif',serif;font-size:15.0px;font-weight:400;font-style:normal;-webkit-text-stroke:0.45px #101010;letter-spacing:0.350px;transform:scaleX(1.0400);">32</div>
<div class="t" style="left:309.47px;top:594.56px;line-height:15.0px;font-family:'Liberation Serif',serif;font-size:15.0px;font-weight:400;font-style:normal;-webkit-text-stroke:0.45px #101010;letter-spacing:0.350px;transform:scaleX(1.0400);">233</div>
<div class="t" style="left:424.84px;top:594.39px;line-height:15.0px;font-family:'Liberation Serif',serif;font-size:15.0px;font-weight:400;font-style:normal;-webkit-text-stroke:0.45px #101010;letter-spacing:0.350px;transform:scaleX(1.0400);">30</div>
<div class="t" style="left:393.07px;top:594.42px;line-height:15.0px;font-family:'Liberation Serif',serif;font-size:15.0px;font-weight:400;font-style:normal;-webkit-text-stroke:0.45px #101010;letter-spacing:0.350px;transform:scaleX(1.0400);">683</div>
<div class="t" style="left:461.40px;top:594.35px;line-height:15.0px;font-family:'Liberation Serif',serif;font-size:15.0px;font-weight:400;font-style:normal;-webkit-text-stroke:0.45px #101010;letter-spacing:0.501px;transform:scaleX(1.0400);">N. Carolina militia</div>
<div class="t" style="left:608.30px;top:594.12px;line-height:15.0px;font-family:'Liberation Serif',serif;font-size:15.0px;font-weight:400;font-style:normal;-webkit-text-stroke:0.45px #101010;letter-spacing:0.350px;transform:scaleX(1.0400);">Jan.</div>
<div class="t" style="left:652.72px;top:593.97px;line-height:15.0px;font-family:'Liberation Serif',serif;font-size:15.0px;font-weight:400;font-style:normal;-webkit-text-stroke:0.45px #101010;letter-spacing:0.350px;transform:scaleX(1.0400);">4, 1834</div>
<div class="t" style="left:761.62px;top:593.86px;line-height:15.0px;font-family:'Liberation Serif',serif;font-size:15.0px;font-weight:400;font-style:normal;-webkit-text-stroke:0.45px #101010;letter-spacing:0.350px;transform:scaleX(1.0400);">do</div>
<div class="t" style="left:838.22px;top:593.74px;line-height:15.0px;font-family:'Liberation Serif',serif;font-size:15.0px;font-weight:400;font-style:normal;-webkit-text-stroke:0.45px #101010;letter-spacing:0.350px;transform:scaleX(1.0400);">71</div>
<div class="t" style="left:57.00px;top:611.20px;line-height:15.0px;font-family:'Liberation Serif',serif;font-size:15.0px;font-weight:400;font-style:normal;-webkit-text-stroke:0.45px #101010;letter-spacing:0.395px;transform:scaleX(1.0400);">William Nickol</div>
<div class="t" style="left:220.30px;top:610.94px;line-height:15.0px;font-family:'Liberation Serif',serif;font-size:15.0px;font-weight:400;font-style:normal;-webkit-text-stroke:0.45px #101010;letter-spacing:0.166px;transform:scaleX(1.0400);">Pri. of drag.</div>
<div class="t" style="left:341.34px;top:610.72px;line-height:15.0px;font-family:'Liberation Serif',serif;font-size:15.0px;font-weight:400;font-style:normal;-webkit-text-stroke:0.45px #101010;letter-spacing:0.350px;transform:scaleX(1.0400);">33</div>
<div class="t" style="left:317.64px;top:610.76px;line-height:15.0px;font-family:'Liberation Serif',serif;font-size:15.0px;font-weight:400;font-style:normal;-webkit-text-stroke:0.45px #101010;letter-spacing:0.350px;transform:scaleX(1.0400);">43</div>
<div class="t" style="left:424.84px;top:610.59px;line-height:15.0px;font-family:'Liberation Serif',serif;font-size:15.0px;font-weight:400;font-style:normal;-webkit-text-stroke:0.45px #101010;letter-spacing:0.350px;transform:scaleX(1.0400);">32</div>
<div class="t" style="left:393.07px;top:610.62px;line-height:15.0px;font-family:'Liberation Serif',serif;font-size:15.0px;font-weight:400;font-style:normal;-webkit-text-stroke:0.45px #101010;letter-spacing:0.350px;transform:scaleX(1.0400);">108</div>
<div class="t" style="left:517.62px;top:610.45px;line-height:15.0px;font-family:'Liberation Serif',serif;font-size:15.0px;font-weight:400;font-style:normal;-webkit-text-stroke:0.45px #101010;letter-spacing:0.350px;transform:scaleX(1.0400);">do</div>
<div class="t" style="left:608.30px;top:610.32px;line-height:15.0px;font-family:'Liberation Serif',serif;font-size:15.0px;font-weight:400;font-style:normal;-webkit-text-stroke:0.45px #101010;letter-spacing:0.350px;transform:scaleX(1.0400);">Apr’l</div>
<div class="t" style="left:644.55px;top:610.17px;line-height:15.0px;font-family:'Liberation Serif',serif;font-size:15.0px;font-weight:400;font-style:normal;-webkit-text-stroke:0.45px #101010;letter-spacing:0.350px;transform:scaleX(1.0400);">23, 1833</div>
<div class="t" style="left:761.62px;top:610.06px;line-height:15.0px;font-family:'Liberation Serif',serif;font-size:15.0px;font-weight:400;font-style:normal;-webkit-text-stroke:0.45px #101010;letter-spacing:0.350px;transform:scaleX(1.0400);">do</div>
<div class="t" style="left:838.22px;top:609.94px;line-height:15.0px;font-family:'Liberation Serif',serif;font-size:15.0px;font-weight:400;font-style:normal;-webkit-text-stroke:0.45px #101010;letter-spacing:0.350px;transform:scaleX(1.0400);">69</div>
<div class="t" style="left:57.00px;top:627.40px;line-height:15.0px;font-family:'Liberation Serif',serif;font-size:15.0px;font-weight:400;font-style:normal;-webkit-text-stroke:0.45px #101010;letter-spacing:1.096px;transform:scaleX(1.0400);">Stephen Penn</div>
<div class="t" style="left:227.70px;top:627.13px;line-height:15.0px;font-family:'Liberation Serif',serif;font-size:15.0px;font-weight:400;font-style:normal;-webkit-text-stroke:0.45px #101010;letter-spacing:0.705px;transform:scaleX(1.0400);">Private</div>
<div class="t" style="left:341.34px;top:626.92px;line-height:15.0px;font-family:'Liberation Serif',serif;font-size:15.0px;font-weight:400;font-style:normal;-webkit-text-stroke:0.45px #101010;letter-spacing:0.350px;transform:scaleX(1.0400);">33</div>
<div class="t" style="left:317.64px;top:626.96px;line-height:15.0px;font-family:'Liberation Serif',serif;font-size:15.0px;font-weight:400;font-style:normal;-webkit-text-stroke:0.45px #101010;letter-spacing:0.350px;transform:scaleX(1.0400);">31</div>
<div class="t" style="left:461.40px;top:626.75px;line-height:15.0px;font-family:'Liberation Serif',serif;font-size:15.0px;font-weight:400;font-style:normal;-webkit-text-stroke:0.45px #101010;letter-spacing:0.650px;transform:scaleX(1.0400);">M’d State troops</div>
<div class="t" style="left:608.30px;top:626.52px;line-height:15.0px;font-family:'Liberation Serif',serif;font-size:15.0px;font-weight:400;font-style:normal;-webkit-text-stroke:0.45px #101010;letter-spacing:0.350px;transform:scaleX(1.0400);">May</div>
<div class="t" style="left:652.72px;top:626.37px;line-height:15.0px;font-family:'Liberation Serif',serif;font-size:15.0px;font-weight:400;font-style:normal;-webkit-text-stroke:0.45px #101010;letter-spacing:0.350px;transform:scaleX(1.0400);">2, 1833</div>
<div class="t" style="left:761.62px;top:626.26px;line-height:15.0px;font-family:'Liberation Serif',serif;font-size:15.0px;font-weight:400;font-style:normal;-webkit-text-stroke:0.45px #101010;letter-spacing:0.350px;transform:scaleX(1.0400);">do</div>
<div class="t" style="left:838.22px;top:626.14px;line-height:15.0px;font-family:'Liberation Serif',serif;font-size:15.0px;font-weight:400;font-style:normal;-webkit-text-stroke:0.45px #101010;letter-spacing:0.350px;transform:scaleX(1.0400);">74</div>
<div class="t" style="left:57.00px;top:643.60px;line-height:15.0px;font-family:'Liberation Serif',serif;font-size:15.0px;font-weight:400;font-style:normal;-webkit-text-stroke:0.45px #101010;letter-spacing:0.512px;transform:scaleX(1.0400);">Abraham Randolph</div>
<div class="t" style="left:251.42px;top:643.28px;line-height:15.0px;font-family:'Liberation Serif',serif;font-size:15.0px;font-weight:400;font-style:normal;-webkit-text-stroke:0.45px #101010;letter-spacing:0.350px;transform:scaleX(1.0400);">do</div>
<div class="t" style="left:341.34px;top:643.12px;line-height:15.0px;font-family:'Liberation Serif',serif;font-size:15.0px;font-weight:400;font-style:normal;-webkit-text-stroke:0.45px #101010;letter-spacing:0.350px;transform:scaleX(1.0400);">00</div>
<div class="t" style="left:317.64px;top:643.16px;line-height:15.0px;font-family:'Liberation Serif',serif;font-size:15.0px;font-weight:400;font-style:normal;-webkit-text-stroke:0.45px #101010;letter-spacing:0.350px;transform:scaleX(1.0400);">20</div>
<div class="t" style="left:461.40px;top:642.95px;line-height:15.0px;font-family:'Liberation Serif',serif;font-size:15.0px;font-weight:400;font-style:normal;-webkit-text-stroke:0.45px #101010;letter-spacing:0.501px;transform:scaleX(1.0400);">N. Carolina militia</div>
<div class="t" style="left:608.30px;top:642.72px;line-height:15.0px;font-family:'Liberation Serif',serif;font-size:15.0px;font-weight:400;font-style:normal;-webkit-text-stroke:0.45px #101010;letter-spacing:0.350px;transform:scaleX(1.0400);">Apr’l</div>
<div class="t" style="left:644.55px;top:642.57px;line-height:15.0px;font-family:'Liberation Serif',serif;font-size:15.0px;font-weight:400;font-style:normal;-webkit-text-stroke:0.45px #101010;letter-spacing:0.350px;transform:scaleX(1.0400);">13, 1833</div>
<div class="t" style="left:761.62px;top:642.46px;line-height:15.0px;font-family:'Liberation Serif',serif;font-size:15.0px;font-weight:400;font-style:normal;-webkit-text-stroke:0.45px #101010;letter-spacing:0.350px;transform:scaleX(1.0400);">do</div>
<div class="t" style="left:838.22px;top:642.34px;line-height:15.0px;font-family:'Liberation Serif',serif;font-size:15.0px;font-weight:400;font-style:normal;-webkit-text-stroke:0.45px #101010;letter-spacing:0.350px;transform:scaleX(1.0400);">72</div>
<div class="t" style="left:57.00px;top:659.80px;line-height:15.0px;font-family:'Liberation Serif',serif;font-size:15.0px;font-weight:400;font-style:normal;-webkit-text-stroke:0.45px #101010;letter-spacing:0.792px;transform:scaleX(1.0400);">Joseph Saunders</div>
<div class="t" style="left:218.80px;top:659.54px;line-height:15.0px;font-family:'Liberation Serif',serif;font-size:15.0px;font-weight:400;font-style:normal;-webkit-text-stroke:0.45px #101010;letter-spacing:0.973px;transform:scaleX(1.0400);">Lt. of navy</div>
<div class="t" style="left:341.34px;top:659.32px;line-height:15.0px;font-family:'Liberation Serif',serif;font-size:15.0px;font-weight:400;font-style:normal;-webkit-text-stroke:0.45px #101010;letter-spacing:0.350px;transform:scaleX(1.0400);">20</div>
<div class="t" style="left:309.47px;top:659.36px;line-height:15.0px;font-family:'Liberation Serif',serif;font-size:15.0px;font-weight:400;font-style:normal;-webkit-text-stroke:0.45px #101010;letter-spacing:0.350px;transform:scaleX(1.0400);">365</div>
<div class="t" style="left:461.40px;top:659.15px;line-height:15.0px;font-family:'Liberation Serif',serif;font-size:15.0px;font-weight:400;font-style:normal;-webkit-text-stroke:0.45px #101010;letter-spacing:0.726px;transform:scaleX(1.0400);">Virg’a State navy</div>
<div class="t" style="left:608.30px;top:658.92px;line-height:15.0px;font-family:'Liberation Serif',serif;font-size:15.0px;font-weight:400;font-style:normal;-webkit-text-stroke:0.45px #101010;letter-spacing:0.350px;transform:scaleX(1.0400);">Feb.</div>
<div class="t" style="left:644.55px;top:658.77px;line-height:15.0px;font-family:'Liberation Serif',serif;font-size:15.0px;font-weight:400;font-style:normal;-webkit-text-stroke:0.45px #101010;letter-spacing:0.350px;transform:scaleX(1.0400);">14, 1833</div>
<div class="t" style="left:761.62px;top:658.66px;line-height:15.0px;font-family:'Liberation Serif',serif;font-size:15.0px;font-weight:400;font-style:normal;-webkit-text-stroke:0.45px #101010;letter-spacing:0.350px;transform:scaleX(1.0400);">do</div>
<div class="t" style="left:838.22px;top:658.54px;line-height:15.0px;font-family:'Liberation Serif',serif;font-size:15.0px;font-weight:400;font-style:normal;-webkit-text-stroke:0.45px #101010;letter-spacing:0.350px;transform:scaleX(1.0400);">77</div>
<div class="t" style="left:57.00px;top:676.00px;line-height:15.0px;font-family:'Liberation Serif',serif;font-size:15.0px;font-weight:400;font-style:normal;-webkit-text-stroke:0.45px #101010;letter-spacing:0.814px;transform:scaleX(1.0400);">Andrew White</div>
<div class="t" style="left:227.70px;top:675.73px;line-height:15.0px;font-family:'Liberation Serif',serif;font-size:15.0px;font-weight:400;font-style:normal;-webkit-text-stroke:0.45px #101010;letter-spacing:0.705px;transform:scaleX(1.0400);">Private</div>
<div class="t" style="left:341.34px;top:675.52px;line-height:15.0px;font-family:'Liberation Serif',serif;font-size:15.0px;font-weight:400;font-style:normal;-webkit-text-stroke:0.45px #101010;letter-spacing:0.350px;transform:scaleX(1.0400);">00</div>
<div class="t" style="left:317.64px;top:675.56px;line-height:15.0px;font-family:'Liberation Serif',serif;font-size:15.0px;font-weight:400;font-style:normal;-webkit-text-stroke:0.45px #101010;letter-spacing:0.350px;transform:scaleX(1.0400);">20</div>
<div class="t" style="left:461.40px;top:675.35px;line-height:15.0px;font-family:'Liberation Serif',serif;font-size:15.0px;font-weight:400;font-style:normal;-webkit-text-stroke:0.45px #101010;letter-spacing:0.501px;transform:scaleX(1.0400);">N. Carolina militia</div>
<div class="t" style="left:608.30px;top:675.12px;line-height:15.0px;font-family:'Liberation Serif',serif;font-size:15.0px;font-weight:400;font-style:normal;-webkit-text-stroke:0.45px #101010;letter-spacing:0.350px;transform:scaleX(1.0400);">Apr.</div>
<div class="t" style="left:644.55px;top:674.97px;line-height:15.0px;font-family:'Liberation Serif',serif;font-size:15.0px;font-weight:400;font-style:normal;-webkit-text-stroke:0.45px #101010;letter-spacing:0.350px;transform:scaleX(1.0400);">23, 1833</div>
<div class="t" style="left:761.62px;top:674.86px;line-height:15.0px;font-family:'Liberation Serif',serif;font-size:15.0px;font-weight:400;font-style:normal;-webkit-text-stroke:0.45px #101010;letter-spacing:0.350px;transform:scaleX(1.0400);">do</div>
<div class="t" style="left:838.22px;top:674.74px;line-height:15.0px;font-family:'Liberation Serif',serif;font-size:15.0px;font-weight:400;font-style:normal;-webkit-text-stroke:0.45px #101010;letter-spacing:0.350px;transform:scaleX(1.0400);">72</div>
<div class="t" style="left:847.8px;top:152.6px;font-family:'Liberation Serif',serif;font-size:16px;line-height:16px;font-weight:400;letter-spacing:0px;-webkit-text-stroke:0.45px #101010;transform:translate(-50%,-50%) rotate(-90deg) scaleX(1.08);transform-origin:50% 50%;">Ages.</div>
<div class="t" style="left:847.0px;top:408.8px;font-family:'Liberation Serif',serif;font-size:16px;line-height:16px;font-weight:400;letter-spacing:0px;-webkit-text-stroke:0.45px #101010;transform:translate(-50%,-50%) rotate(-90deg) scaleX(1.08);transform-origin:50% 50%;">Ages.</div>
<div class="t" style="left:1137.2px;top:392.3px;font-family:'Liberation Sans',sans-serif;font-size:21px;line-height:21px;font-weight:400;letter-spacing:3.5px;-webkit-text-stroke:0.5px #101010;transform:translate(-50%,-50%) rotate(90deg) scaleX(1.0);transform-origin:50% 50%;">85</div>
<div class="t" style="left:1136.8px;top:668.2px;font-family:'Liberation Serif',serif;font-size:24px;line-height:24px;font-weight:700;letter-spacing:1.5px;-webkit-text-stroke:0.4px #101010;transform:translate(-50%,-50%) rotate(90deg) scaleX(1.0);transform-origin:50% 50%;">514</div>
</div></body></html>
